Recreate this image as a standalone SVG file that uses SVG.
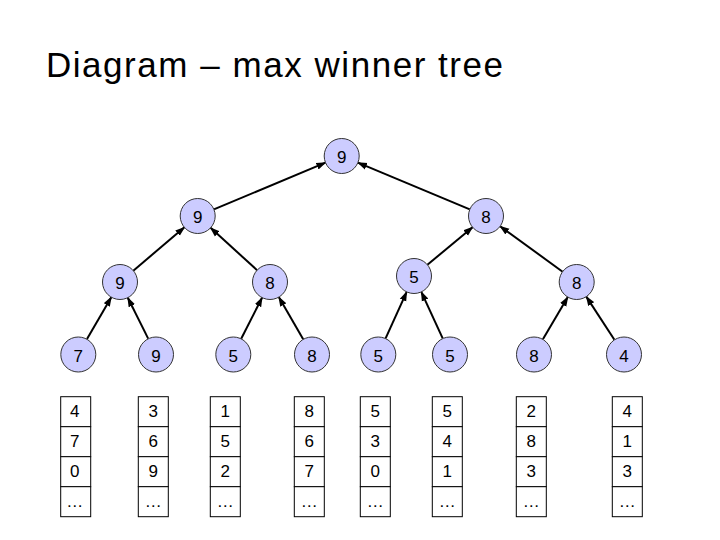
<svg xmlns="http://www.w3.org/2000/svg" width="720" height="540" viewBox="0 0 720 540">
<style>
.node circle{fill:#ccccff;stroke:#333333;stroke-width:1}
.node text,.cell text{font-family:"Liberation Sans",Arial,sans-serif;font-size:17px;text-anchor:middle;fill:#000}
.cell rect{fill:#fff;stroke:#000;stroke-width:1}
.edge{stroke:#000;stroke-width:2;fill:none;marker-end:url(#arrow)}
.title{font-family:"Liberation Sans",Arial,sans-serif;font-size:35px;fill:#000}
</style>
<defs>
<marker id="arrow" markerUnits="userSpaceOnUse" markerWidth="10" markerHeight="8" refX="9" refY="4" orient="auto">
<path d="M0,0.5 L10,4 L0,7.5 z" fill="#000"/>
</marker>
</defs>
<rect width="720" height="540" fill="#fff"/>
<text class="title" x="46" y="77.3" textLength="457" lengthAdjust="spacing">Diagram – max winner tree</text>
<g id="connectors">
<line class="edge" x1="213.9" y1="209.3" x2="325.5" y2="162.7"/>
<line class="edge" x1="469.8" y1="209.3" x2="357.9" y2="162.7"/>
<line class="edge" x1="133.3" y1="270.7" x2="184.4" y2="227.3"/>
<line class="edge" x1="257.1" y1="270.2" x2="210.6" y2="227.8"/>
<line class="edge" x1="427.4" y1="264.8" x2="472.6" y2="227.2"/>
<line class="edge" x1="562.6" y1="271.7" x2="500.1" y2="226.3"/>
<line class="edge" x1="87.0" y1="339.1" x2="111.3" y2="297.2"/>
<line class="edge" x1="148.2" y1="338.6" x2="127.8" y2="297.7"/>
<line class="edge" x1="241.2" y1="338.7" x2="262.1" y2="297.6"/>
<line class="edge" x1="303.2" y1="339.2" x2="278.8" y2="297.1"/>
<line class="edge" x1="385.6" y1="338.4" x2="406.7" y2="291.9"/>
<line class="edge" x1="442.7" y1="338.4" x2="421.3" y2="291.9"/>
<line class="edge" x1="542.9" y1="339.2" x2="567.8" y2="297.1"/>
<line class="edge" x1="614.4" y1="339.7" x2="586.3" y2="296.6"/>
</g>
<g id="n-root" class="node"><circle cx="341.7" cy="156" r="17.5"/><text x="341.7" y="163.3">9</text></g>
<g id="n-l1a" class="node"><circle cx="197.7" cy="216" r="17.5"/><text x="197.7" y="223.3">9</text></g>
<g id="n-l1b" class="node"><circle cx="486" cy="216" r="17.5"/><text x="486" y="223.3">8</text></g>
<g id="n-l2a" class="node"><circle cx="120" cy="282" r="17.5"/><text x="120" y="289.3">9</text></g>
<g id="n-l2b" class="node"><circle cx="270" cy="282" r="17.5"/><text x="270" y="289.3">8</text></g>
<g id="n-l2c" class="node"><circle cx="414" cy="276" r="17.5"/><text x="414" y="283.3">5</text></g>
<g id="n-l2d" class="node"><circle cx="576.7" cy="282" r="17.5"/><text x="576.7" y="289.3">8</text></g>
<g id="leaf1" class="node"><circle cx="78.3" cy="354.5" r="17.5"/><text x="78.3" y="362">7</text></g>
<g id="leaf2" class="node"><circle cx="156" cy="354.5" r="17.5"/><text x="156" y="362">9</text></g>
<g id="leaf3" class="node"><circle cx="233.3" cy="354.5" r="17.5"/><text x="233.3" y="362">5</text></g>
<g id="leaf4" class="node"><circle cx="312" cy="354.5" r="17.5"/><text x="312" y="362">8</text></g>
<g id="leaf5" class="node"><circle cx="378.3" cy="354.5" r="17.5"/><text x="378.3" y="362">5</text></g>
<g id="leaf6" class="node"><circle cx="450" cy="354.5" r="17.5"/><text x="450" y="362">5</text></g>
<g id="leaf7" class="node"><circle cx="534" cy="354.5" r="17.5"/><text x="534" y="362">8</text></g>
<g id="leaf8" class="node"><circle cx="624" cy="354.5" r="17.5"/><text x="624" y="362">4</text></g>
<g id="col1" class="cell" transform="translate(60.7,396.7)">
<rect width="30" height="30"/><rect y="30" width="30" height="30"/><rect y="60" width="30" height="30"/><rect y="90" width="30" height="30"/>
<text x="14" y="20.8">4</text><text x="14" y="50.8">7</text><text x="14" y="80.8">0</text><text x="14" y="110.8">…</text></g>
<g id="col2" class="cell" transform="translate(138.3,396.7)">
<rect width="30" height="30"/><rect y="30" width="30" height="30"/><rect y="60" width="30" height="30"/><rect y="90" width="30" height="30"/>
<text x="15" y="20.8">3</text><text x="15" y="50.8">6</text><text x="15" y="80.8">9</text><text x="15" y="110.8">…</text></g>
<g id="col3" class="cell" transform="translate(210.3,396.7)">
<rect width="30" height="30"/><rect y="30" width="30" height="30"/><rect y="60" width="30" height="30"/><rect y="90" width="30" height="30"/>
<text x="15" y="20.8">1</text><text x="15" y="50.8">5</text><text x="15" y="80.8">2</text><text x="15" y="110.8">…</text></g>
<g id="col4" class="cell" transform="translate(294.3,396.7)">
<rect width="30" height="30"/><rect y="30" width="30" height="30"/><rect y="60" width="30" height="30"/><rect y="90" width="30" height="30"/>
<text x="15" y="20.8">8</text><text x="15" y="50.8">6</text><text x="15" y="80.8">7</text><text x="15" y="110.8">…</text></g>
<g id="col5" class="cell" transform="translate(360.3,396.7)">
<rect width="30" height="30"/><rect y="30" width="30" height="30"/><rect y="60" width="30" height="30"/><rect y="90" width="30" height="30"/>
<text x="15" y="20.8">5</text><text x="15" y="50.8">3</text><text x="15" y="80.8">0</text><text x="15" y="110.8">…</text></g>
<g id="col6" class="cell" transform="translate(432.3,396.7)">
<rect width="30" height="30"/><rect y="30" width="30" height="30"/><rect y="60" width="30" height="30"/><rect y="90" width="30" height="30"/>
<text x="15" y="20.8">5</text><text x="15" y="50.8">4</text><text x="15" y="80.8">1</text><text x="15" y="110.8">…</text></g>
<g id="col7" class="cell" transform="translate(516.3,396.7)">
<rect width="30" height="30"/><rect y="30" width="30" height="30"/><rect y="60" width="30" height="30"/><rect y="90" width="30" height="30"/>
<text x="15" y="20.8">2</text><text x="15" y="50.8">8</text><text x="15" y="80.8">3</text><text x="15" y="110.8">…</text></g>
<g id="col8" class="cell" transform="translate(612.3,396.7)">
<rect width="30" height="30"/><rect y="30" width="30" height="30"/><rect y="60" width="30" height="30"/><rect y="90" width="30" height="30"/>
<text x="15" y="20.8">4</text><text x="15" y="50.8">1</text><text x="15" y="80.8">3</text><text x="15" y="110.8">…</text></g>
</svg>
